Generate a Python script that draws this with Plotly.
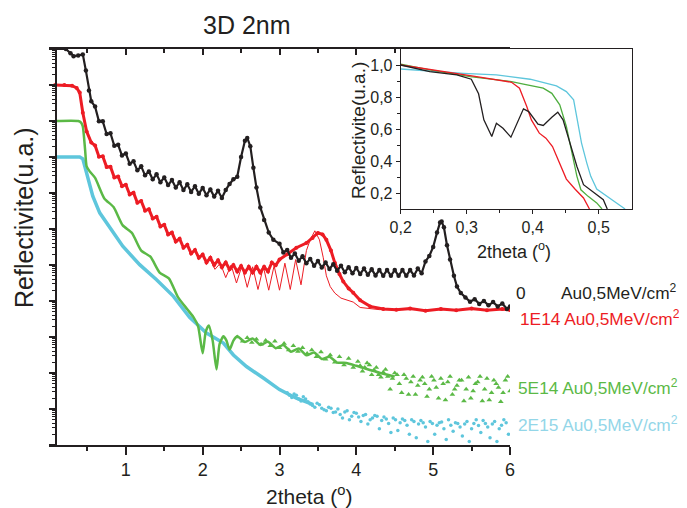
import plotly.graph_objects as go
import numpy as np

# ---------------- data (x = 2theta in degrees, values = log10 of reflectivity) ----------------
black_0 = [
    (0.08, 0.0), (0.22, 0.0), (0.28, -0.12), (0.32, -0.20), (0.38, -0.18), (0.44, -0.15),
    (0.48, -0.60), (0.52, -1.15), (0.55, -1.45),
    (0.60, -1.60), (0.65, -2.01), (0.70, -2.01), (0.75, -2.36), (0.80, -2.34), (0.85, -2.69),
    (0.90, -2.66), (0.95, -2.96), (1.00, -2.90), (1.05, -3.19), (1.10, -3.12), (1.15, -3.37),
    (1.20, -3.26), (1.25, -3.51), (1.30, -3.40), (1.35, -3.62), (1.40, -3.48), (1.45, -3.70),
    (1.50, -3.57), (1.55, -3.78), (1.60, -3.64), (1.65, -3.85), (1.70, -3.70), (1.75, -3.92),
    (1.80, -3.76), (1.85, -3.97), (1.90, -3.81), (1.95, -4.02), (2.00, -3.86), (2.05, -4.06),
    (2.10, -3.90), (2.15, -4.10), (2.20, -3.94), (2.25, -4.14), (2.30, -3.92), (2.35, -3.75),
    (2.40, -3.62), (2.45, -3.55), (2.50, -3.00), (2.55, -2.55), (2.58, -2.47), (2.62, -2.70),
    (2.66, -3.30), (2.70, -3.85), (2.75, -4.40), (2.80, -4.75), (2.86, -5.10), (2.92, -5.30),
    (3.00, -5.41), (3.05, -5.65), (3.10, -5.58), (3.15, -5.80), (3.20, -5.68), (3.25, -5.88),
    (3.30, -5.76), (3.35, -5.95), (3.40, -5.83), (3.45, -6.02), (3.50, -5.89), (3.55, -6.07),
    (3.60, -5.93), (3.65, -6.11), (3.70, -5.98), (3.75, -6.16), (3.80, -6.02), (3.85, -6.20),
    (3.90, -6.06), (3.95, -6.23), (4.00, -6.08), (4.05, -6.25), (4.10, -6.10), (4.15, -6.27),
    (4.20, -6.12), (4.25, -6.29), (4.30, -6.14), (4.35, -6.30), (4.40, -6.14), (4.45, -6.30),
    (4.50, -6.14), (4.55, -6.30), (4.60, -6.14), (4.65, -6.30), (4.70, -6.14), (4.75, -6.29),
    (4.80, -6.10), (4.85, -6.23), (4.90, -5.90), (4.95, -5.75), (5.00, -5.50), (5.05, -5.10),
    (5.09, -4.82), (5.11, -4.79), (5.14, -4.95), (5.18, -5.45), (5.22, -5.85), (5.27, -6.30),
    (5.31, -6.60), (5.36, -6.78), (5.42, -6.90), (5.48, -7.02), (5.54, -6.95), (5.60, -7.08),
    (5.66, -7.00), (5.72, -7.12), (5.78, -7.03), (5.84, -7.15), (5.90, -7.07), (5.96, -7.22),
    (6.00, -7.15),
]

red_1e14_data = [
    (0.08, -1.00), (0.20, -1.00), (0.30, -1.02), (0.36, -1.08), (0.40, -1.21), (0.44, -1.77),
    (0.49, -2.29), (0.55, -2.60),
    (0.60, -2.68), (0.65, -2.99), (0.70, -2.98), (0.75, -3.28), (0.80, -3.27), (0.85, -3.57),
    (0.90, -3.54), (0.95, -3.81), (1.00, -3.77), (1.05, -4.04), (1.10, -3.99), (1.15, -4.27),
    (1.20, -4.22), (1.25, -4.49), (1.30, -4.45), (1.35, -4.71), (1.40, -4.66), (1.45, -4.93),
    (1.50, -4.88), (1.55, -5.15), (1.60, -5.10), (1.65, -5.35), (1.70, -5.27), (1.75, -5.52),
    (1.80, -5.44), (1.85, -5.68), (1.90, -5.58), (1.95, -5.80), (2.00, -5.71), (2.05, -5.93),
    (2.10, -5.80), (2.15, -6.00), (2.20, -5.87), (2.25, -6.06), (2.30, -5.93), (2.35, -6.12),
    (2.40, -6.00), (2.45, -6.18), (2.50, -6.03), (2.55, -6.21), (2.60, -6.05), (2.65, -6.21),
    (2.70, -6.05), (2.75, -6.21), (2.80, -6.05), (2.85, -6.18), (2.90, -5.93), (2.95, -6.01),
    (3.00, -5.85), (3.10, -5.70), (3.22, -5.52), (3.35, -5.39), (3.43, -5.25), (3.50, -5.11),
    (3.56, -5.15), (3.61, -5.30), (3.67, -5.60), (3.72, -5.94), (3.78, -6.25), (3.83, -6.46),
    (3.90, -6.65), (3.96, -6.77), (4.05, -6.98), (4.18, -7.15), (4.35, -7.22), (4.52, -7.24),
    (4.70, -7.21), (4.90, -7.27), (5.10, -7.22), (5.30, -7.26), (5.50, -7.21), (5.70, -7.26),
    (5.90, -7.22), (6.00, -7.25),
]

red_1e14_fit = [
    (1.80, -5.44), (1.85, -5.68), (1.90, -5.58), (1.95, -5.80), (2.00, -5.71), (2.05, -5.93),
    (2.10, -5.86), (2.16, -6.12), (2.23, -5.95), (2.30, -6.35), (2.37, -6.00), (2.44, -6.50),
    (2.51, -6.03), (2.58, -6.62), (2.65, -6.05), (2.72, -6.68), (2.79, -6.05), (2.86, -6.70),
    (2.93, -6.02), (3.00, -6.70), (3.07, -5.95), (3.14, -6.68), (3.21, -5.85), (3.28, -6.55),
    (3.35, -5.60), (3.40, -5.30), (3.46, -5.05), (3.52, -5.30), (3.57, -5.80), (3.61, -6.30),
    (3.66, -6.60), (3.72, -6.78), (3.80, -6.92), (3.90, -6.98), (3.96, -7.03), (4.05, -7.18),
    (4.30, -7.24), (6.00, -7.24),
]

green_5e14_fit = [
    (0.08, -2.00), (0.38, -2.00), (0.42, -2.05), (0.44, -2.15), (0.47, -2.80), (0.49, -3.26),
    (0.53, -3.40), (0.60, -3.58), (0.72, -4.15), (0.84, -4.39), (0.96, -4.90), (1.08, -5.11),
    (1.20, -5.60), (1.32, -5.77), (1.44, -6.21), (1.56, -6.37), (1.68, -6.90), (1.80, -7.23),
    (1.88, -7.45), (1.94, -7.70), (2.00, -8.45), (2.04, -7.85), (2.08, -7.68), (2.13, -8.10),
    (2.18, -8.90), (2.22, -8.20), (2.27, -7.98), (2.31, -8.10), (2.35, -8.35), (2.40, -8.10),
    (2.45, -7.98), (2.55, -8.14), (2.65, -8.04), (2.75, -8.22), (2.85, -8.13), (2.95, -8.31),
    (3.05, -8.22), (3.15, -8.41), (3.25, -8.32), (3.35, -8.51), (3.45, -8.43), (3.55, -8.61),
    (3.65, -8.55), (3.75, -8.71), (3.87, -8.72), (4.00, -8.80), (4.31, -9.00), (4.50, -9.10),
]

green_5e14_data = [
    (2.45, -8.00), (2.52, -8.12), (2.58, -8.02), (2.64, -8.15), (2.70, -8.06), (2.76, -8.20),
    (2.82, -8.10), (2.88, -8.24), (2.94, -8.12), (3.00, -8.30), (3.06, -8.18), (3.12, -8.36),
    (3.18, -8.24), (3.24, -8.40), (3.30, -8.30), (3.36, -8.46), (3.42, -8.36), (3.48, -8.55),
    (3.54, -8.42), (3.60, -8.62), (3.66, -8.50), (3.72, -8.70), (3.78, -8.55), (3.84, -8.78),
    (3.90, -8.60), (3.96, -8.85), (4.02, -8.68), (4.08, -8.95), (4.14, -8.72), (4.20, -9.05),
    (4.26, -8.85), (4.32, -9.12), (4.38, -8.90), (4.44, -9.45), (4.50, -9.00), (4.56, -9.30),
    (4.62, -9.05), (4.68, -9.60), (4.74, -9.10), (4.80, -9.35), (4.86, -9.12), (4.92, -9.65),
    (4.98, -9.10), (5.04, -9.40), (5.10, -9.15), (5.16, -9.75), (5.22, -9.10), (5.28, -9.45),
    (5.34, -9.20), (5.40, -9.78), (5.46, -9.12), (5.52, -9.50), (5.58, -9.25), (5.64, -9.78),
    (5.70, -9.15), (5.76, -9.55), (5.82, -9.30), (5.88, -9.80), (5.94, -9.20), (6.00, -9.50),
    (4.05, -8.80), (4.11, -8.85), (4.17, -8.78), (4.23, -8.92), (4.29, -9.05), (4.35, -8.98),
    (4.41, -9.10), (4.47, -9.15), (4.53, -9.05), (4.59, -9.55), (4.65, -9.15), (4.71, -9.25),
    (4.77, -9.60), (4.83, -9.20), (4.89, -9.30), (4.95, -9.45), (5.01, -9.20), (5.07, -9.70),
    (5.13, -9.30), (5.19, -9.25), (5.25, -9.60), (5.31, -9.35), (5.37, -9.20), (5.43, -9.45),
    (5.49, -9.70), (5.55, -9.30), (5.61, -9.10), (5.67, -9.45), (5.73, -9.75), (5.79, -9.20),
    (5.85, -9.40), (5.91, -9.55), (5.97, -9.10),
]

cyan_2e15_fit = [
    (0.08, -3.00), (0.40, -3.00), (0.44, -3.05), (0.47, -3.30), (0.49, -3.45), (0.51, -3.63),
    (0.57, -4.09), (0.66, -4.55), (0.75, -4.83), (0.96, -5.48), (1.18, -5.99), (1.40, -6.41),
    (1.62, -6.87), (1.83, -7.45), (2.05, -7.89), (2.27, -8.17), (2.40, -8.50), (2.57, -8.82),
    (2.79, -9.14), (3.00, -9.46), (3.22, -9.70), (3.44, -9.88),
]

cyan_2e15_data = [
    (3.10, -9.55), (3.16, -9.68), (3.22, -9.62), (3.28, -9.78), (3.34, -9.72), (3.40, -9.86),
    (3.46, -9.95), (3.52, -9.88), (3.58, -10.02), (3.64, -9.95), (3.70, -10.10), (3.76, -10.00),
    (3.82, -10.25), (3.88, -10.05), (3.94, -10.20), (4.00, -10.12), (4.06, -10.35), (4.12, -10.15),
    (4.18, -10.30), (4.24, -10.18), (4.30, -10.55), (4.36, -10.22), (4.42, -10.40), (4.48, -10.25),
    (4.54, -10.60), (4.60, -10.28), (4.66, -10.45), (4.72, -10.30), (4.78, -10.80), (4.84, -10.32),
    (4.90, -10.50), (4.96, -10.35), (5.02, -10.70), (5.08, -10.38), (5.14, -10.55), (5.20, -10.30),
    (5.26, -10.62), (5.32, -10.40), (5.38, -10.75), (5.44, -10.35), (5.50, -10.55), (5.56, -10.30),
    (5.62, -10.65), (5.68, -10.40), (5.74, -10.80), (5.80, -10.35), (5.86, -10.55), (5.92, -10.30),
    (5.98, -10.70),
    (3.13, -9.62), (3.19, -9.58), (3.25, -9.72), (3.31, -9.66), (3.37, -9.80), (3.43, -9.90),
    (3.49, -9.84), (3.55, -9.98), (3.61, -10.05), (3.67, -9.98), (3.73, -10.08), (3.79, -10.15),
    (3.85, -10.08), (3.91, -10.30), (3.97, -10.10), (4.03, -10.22), (4.09, -10.18), (4.15, -10.42),
    (4.21, -10.25), (4.27, -10.20), (4.33, -10.32), (4.39, -10.28), (4.45, -10.65), (4.51, -10.30),
    (4.57, -10.38), (4.63, -10.32), (4.69, -10.70), (4.75, -10.35), (4.81, -10.42), (4.87, -10.38),
    (4.93, -10.90), (4.99, -10.40), (5.05, -10.45), (5.11, -10.36), (5.17, -10.85), (5.23, -10.45),
    (5.29, -10.38), (5.35, -10.50), (5.41, -10.42), (5.47, -10.90), (5.53, -10.40), (5.59, -10.46),
    (5.65, -10.32), (5.71, -10.50), (5.77, -10.42), (5.83, -10.90), (5.89, -10.45), (5.95, -10.38),
]

# inset (linear reflectivity vs 2theta)
inset_black = [(0.200, 1.000), (0.244, 0.958), (0.285, 0.938), (0.307, 0.911), (0.318, 0.820),
               (0.326, 0.657), (0.338, 0.553), (0.345, 0.636), (0.355, 0.605), (0.367, 0.549),
               (0.386, 0.726), (0.394, 0.709), (0.408, 0.630), (0.416, 0.622), (0.429, 0.674),
               (0.438, 0.705), (0.446, 0.657), (0.455, 0.533), (0.467, 0.366), (0.477, 0.252),
               (0.494, 0.200), (0.507, 0.158), (0.513, 0.100)]
inset_red = [(0.200, 1.000), (0.244, 0.973), (0.315, 0.927), (0.368, 0.892), (0.380, 0.855),
             (0.391, 0.740), (0.398, 0.657), (0.410, 0.574), (0.420, 0.543), (0.430, 0.490),
             (0.441, 0.387), (0.451, 0.287), (0.464, 0.225), (0.477, 0.169), (0.486, 0.100)]
inset_green = [(0.200, 1.005), (0.244, 0.970), (0.305, 0.927), (0.368, 0.896), (0.386, 0.881),
               (0.416, 0.855), (0.429, 0.823), (0.441, 0.751), (0.451, 0.616), (0.459, 0.450),
               (0.467, 0.304), (0.473, 0.220), (0.484, 0.179), (0.497, 0.138), (0.505, 0.100)]
inset_cyan = [(0.200, 0.975), (0.244, 0.962), (0.295, 0.948), (0.345, 0.938), (0.396, 0.911),
              (0.436, 0.869), (0.451, 0.834), (0.462, 0.782), (0.467, 0.678), (0.474, 0.512),
              (0.482, 0.387), (0.488, 0.304), (0.497, 0.225), (0.512, 0.179), (0.527, 0.138),
              (0.540, 0.100)]

main_xticks = [1, 2, 3, 4, 5, 6]
main_xminor = [0.5, 1.5, 2.5, 3.5, 4.5, 5.5]
inset_xticks = [0.2, 0.3, 0.4, 0.5]
inset_yticks = [0.2, 0.4, 0.6, 0.8, 1.0]

series_labels = ["0", "1E14 Au0,5MeV/cm<sup>2</sup>", "5E14 Au0,5MeV/cm<sup>2</sup>",
                 "2E15 Au0,5MeV/cm<sup>2</sup>"]

# ---------------- styling ----------------
INK = "#231f20"
BLACK = "#231f20"
RED = "#ed1c24"
GREEN = "#5bb946"
CYAN = "#5ec6dc"
CYAN_LABEL = "#93d6e8"
FONT = "Liberation Sans, Arial, sans-serif"


def xy(pairs, log=True):
    xs = [p[0] for p in pairs]
    ys = [p[1] for p in pairs]
    if log:
        ys = list(np.power(10.0, ys))
    return xs, ys


fig = go.Figure()

# main panel
x, y = xy(cyan_2e15_fit)
fig.add_trace(go.Scatter(x=x, y=y, mode="lines", line=dict(color=CYAN, width=3.5)))
x, y = xy(cyan_2e15_data)
fig.add_trace(go.Scatter(x=x, y=y, mode="markers", marker=dict(color=CYAN, size=3.5)))

x, y = xy(green_5e14_data)
fig.add_trace(go.Scatter(x=x, y=y, mode="markers",
                         marker=dict(color=GREEN, size=5, symbol="triangle-up")))
x, y = xy(green_5e14_fit)
fig.add_trace(go.Scatter(x=x, y=y, mode="lines", line=dict(color=GREEN, width=2.5,
                                                             shape="spline", smoothing=0.6)))

x, y = xy(red_1e14_data)
fig.add_trace(go.Scatter(x=x, y=y, mode="lines+markers", line=dict(color=RED, width=3),
                         marker=dict(color=RED, size=4)))
x, y = xy(red_1e14_fit)
fig.add_trace(go.Scatter(x=x, y=y, mode="lines", line=dict(color=RED, width=1)))

x, y = xy(black_0)
fig.add_trace(go.Scatter(x=x, y=y, mode="lines+markers", line=dict(color=BLACK, width=2.2),
                         marker=dict(color=BLACK, size=4.5)))

# dummy trace so the top mirror axis is drawn
fig.add_trace(go.Scatter(x=[None], y=[None], xaxis="x3", yaxis="y", mode="markers",
                         hoverinfo="skip"))

# inset
for pairs, col in [(inset_cyan, CYAN), (inset_green, "#4fae3f"), (inset_red, RED),
                   (inset_black, BLACK)]:
    x, y = xy(pairs, log=False)
    fig.add_trace(go.Scatter(x=x, y=y, mode="lines", line=dict(color=col, width=1.3),
                             xaxis="x2", yaxis="y2"))

# the page adds an 8px body margin: figure is drawn from page (8, 8)
OFF = 8
W, H = 687 - OFF, 508 - OFF
ML, MR, MT, MB = 49 - OFF, 47, 49 - OFF, 63
PW = W - ML - MR
PH = H - MT - MB


def px(v):  # page pixel x -> paper fraction
    return (v - OFF - ML) / PW


def py(v):  # page pixel y -> paper fraction
    return (H - MB - (v - OFF)) / PH


axis_common = dict(showgrid=False, zeroline=False, showline=True, linecolor=INK,
                   tickcolor=INK)

fig.update_layout(
    width=W, height=H,
    margin=dict(l=ML, r=MR, t=MT, b=MB),
    paper_bgcolor="white", plot_bgcolor="white",
    showlegend=False,
    separators=", ",
    font=dict(family=FONT, color=INK, size=16),
    xaxis=dict(**axis_common, domain=[0, px(510)], range=[0, 6], anchor="y",
               tickvals=main_xticks, ticks="outside", ticklen=8, tickwidth=1.5,
               linewidth=1.5, tickfont=dict(size=18),
               minor=dict(tickvals=main_xminor, ticks="outside", ticklen=4,
                          tickwidth=1.5, tickcolor=INK)),
    xaxis3=dict(**axis_common, overlaying="x", side="top", anchor="y", range=[0, 6],
                tickvals=main_xticks, ticks="inside", ticklen=6, tickwidth=1.5,
                linewidth=1.5, showticklabels=False,
                minor=dict(tickvals=main_xminor, ticks="inside", ticklen=4,
                           tickwidth=1.5, tickcolor=INK)),
    yaxis=dict(**axis_common, type="log", range=[-11, 0], domain=[0, 1],
               anchor="free", position=px(55.5), dtick=1, ticks="outside",
               ticklen=6, tickwidth=1.5, linewidth=1.5, showticklabels=False,
               minor=dict(ticks="outside", ticklen=3, tickwidth=1, dtick="D1",
                          tickcolor=INK)),
    xaxis2=dict(**axis_common, domain=[px(400.7), px(631.7)], anchor="y2",
                range=[0.2, 0.55], tickvals=inset_xticks, tickformat=".1f",
                ticks="outside", ticklen=4, mirror=True, linewidth=1,
                tickfont=dict(size=16),
                minor=dict(tickvals=[0.25, 0.35, 0.45], ticks="outside", ticklen=3,
                           tickcolor=INK)),
    yaxis2=dict(**axis_common, domain=[py(209), 1.0], anchor="x2", range=[0.1, 1.1],
                tickvals=inset_yticks, tickformat=".1f", ticks="outside", ticklen=4,
                mirror=True, linewidth=1, tickfont=dict(size=16),
                minor=dict(tickvals=[0.3, 0.5, 0.7, 0.9], ticks="outside", ticklen=3,
                           tickcolor=INK)),
)

LEG = 17.3
annots = [
    dict(text="3D 2nm", x=px(247), y=py(25), font=dict(size=25), xanchor="center"),
    dict(text="Reflectivite(u.a.)", x=px(24), y=py(218), font=dict(size=25),
         textangle=-90, xanchor="center"),
    dict(text="2theta (<sup>o</sup>)", x=px(309), y=py(495), font=dict(size=21),
         xanchor="center"),
    dict(text="Reflectivite(u.a.)", x=px(358), y=py(131), font=dict(size=19),
         textangle=-90, xanchor="center"),
    dict(text="2theta (<sup>o</sup>)", x=px(514), y=py(250), font=dict(size=18),
         xanchor="center"),
    dict(text=series_labels[0], x=px(514), y=py(293), font=dict(size=LEG, color=BLACK),
         xanchor="left"),
    dict(text="Au0,5MeV/cm<sup>2</sup>", x=px(559), y=py(292),
         font=dict(size=LEG, color=BLACK), xanchor="left"),
    dict(text=series_labels[1], x=px(518), y=py(318), font=dict(size=LEG, color=RED),
         xanchor="left"),
    dict(text=series_labels[2], x=px(516), y=py(387), font=dict(size=LEG, color=GREEN),
         xanchor="left"),
    dict(text=series_labels[3], x=px(516), y=py(424), font=dict(size=LEG, color=CYAN_LABEL),
         xanchor="left"),
]
for a in annots:
    fig.add_annotation(xref="paper", yref="paper", showarrow=False, yanchor="middle", **a)

fig.write_html("out.html")
